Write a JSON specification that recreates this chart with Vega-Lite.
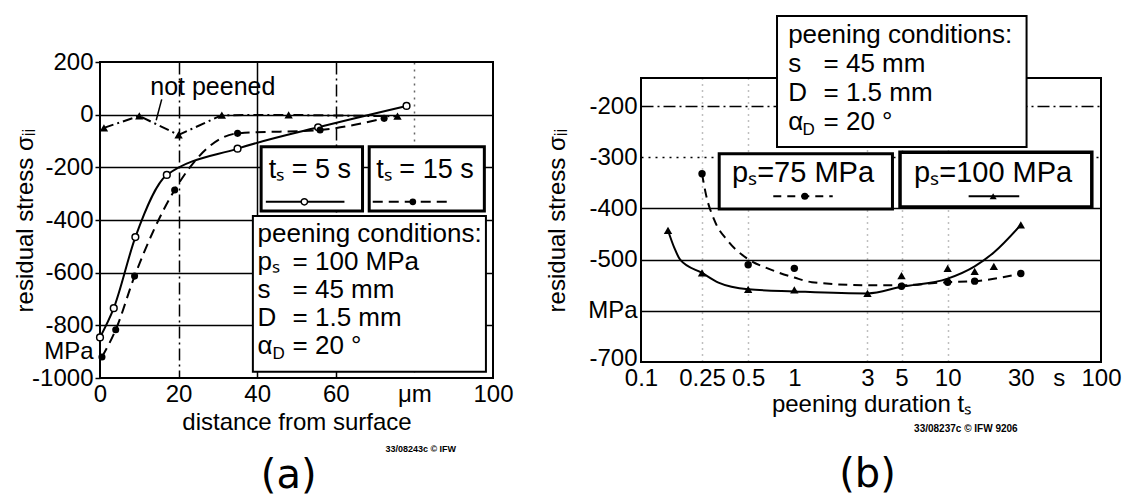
{
  "$schema": "https://vega.github.io/schema/vega-lite/v6.json",
  "background": "white",
  "padding": {"left": 12, "top": 14, "right": 0, "bottom": 0},
  "bounds": "flush",
  "center": true,
  "spacing": 148,
  "config": {
    "font": "Liberation Sans",
    "view": {"stroke": "black", "strokeWidth": 2},
    "axis": {
      "labelFont": "Liberation Sans", "titleFont": "Liberation Sans",
      "labelFontSize": 24, "titleFontSize": 24,
      "labelColor": "black", "titleColor": "black", "titleFontWeight": "normal",
      "domain": false, "gridColor": "black", "gridOpacity": 1,
      "labelOverlap": false, "labelFlush": false, "tickColor": "black"
    }
  },
  "datasets": {
    "a": [
      {"series": "not peened", "d": 1, "s": -50},
      {"series": "not peened", "d": 10, "s": -5},
      {"series": "not peened", "d": 20, "s": -77},
      {"series": "not peened", "d": 31, "s": -2},
      {"series": "not peened", "d": 48, "s": -1},
      {"series": "not peened", "d": 75.7, "s": -6},
      {"series": "5 s", "d": 0, "s": -846},
      {"series": "5 s", "d": 3.5, "s": -735},
      {"series": "5 s", "d": 9, "s": -465},
      {"series": "5 s", "d": 17, "s": -229},
      {"series": "5 s", "d": 35, "s": -129},
      {"series": "5 s", "d": 55.5, "s": -48},
      {"series": "5 s", "d": 78, "s": 33},
      {"series": "15 s", "d": 0.5, "s": -920},
      {"series": "15 s", "d": 4, "s": -817},
      {"series": "15 s", "d": 8.8, "s": -613},
      {"series": "15 s", "d": 19, "s": -286},
      {"series": "15 s", "d": 35, "s": -71},
      {"series": "15 s", "d": 56, "s": -58},
      {"series": "15 s", "d": 72.3, "s": -14}
    ],
    "b": [
      {"p": "100 MPa", "t": 0.15, "s": -443},
      {"p": "100 MPa", "t": 0.25, "s": -526},
      {"p": "100 MPa", "t": 0.5, "s": -558},
      {"p": "100 MPa", "t": 1, "s": -559},
      {"p": "100 MPa", "t": 3, "s": -566},
      {"p": "100 MPa", "t": 5, "s": -531},
      {"p": "100 MPa", "t": 10, "s": -517},
      {"p": "100 MPa", "t": 15, "s": -523},
      {"p": "100 MPa", "t": 20, "s": -513},
      {"p": "100 MPa", "t": 30, "s": -432},
      {"p": "75 MPa", "t": 0.25, "s": -332},
      {"p": "75 MPa", "t": 0.5, "s": -510},
      {"p": "75 MPa", "t": 1, "s": -517},
      {"p": "75 MPa", "t": 5, "s": -552},
      {"p": "75 MPa", "t": 10, "s": -544},
      {"p": "75 MPa", "t": 15, "s": -542},
      {"p": "75 MPa", "t": 30, "s": -527}
    ],
    "bfit": [
      {"p": "100 MPa", "t": 0.15, "s": -443},
      {"p": "100 MPa", "t": 0.165, "s": -477},
      {"p": "100 MPa", "t": 0.18, "s": -500},
      {"p": "100 MPa", "t": 0.25, "s": -526},
      {"p": "100 MPa", "t": 0.32, "s": -545},
      {"p": "100 MPa", "t": 0.5, "s": -558},
      {"p": "100 MPa", "t": 1, "s": -562},
      {"p": "100 MPa", "t": 3, "s": -566},
      {"p": "100 MPa", "t": 5, "s": -553},
      {"p": "100 MPa", "t": 10, "s": -537},
      {"p": "100 MPa", "t": 15, "s": -513},
      {"p": "100 MPa", "t": 20, "s": -486},
      {"p": "100 MPa", "t": 30, "s": -432},
      {"p": "75 MPa", "t": 0.25, "s": -332},
      {"p": "75 MPa", "t": 0.265, "s": -372},
      {"p": "75 MPa", "t": 0.3, "s": -422},
      {"p": "75 MPa", "t": 0.37, "s": -464},
      {"p": "75 MPa", "t": 0.5, "s": -499},
      {"p": "75 MPa", "t": 0.67, "s": -517},
      {"p": "75 MPa", "t": 1, "s": -535},
      {"p": "75 MPa", "t": 1.3, "s": -544},
      {"p": "75 MPa", "t": 3, "s": -550},
      {"p": "75 MPa", "t": 5, "s": -550},
      {"p": "75 MPa", "t": 10, "s": -544},
      {"p": "75 MPa", "t": 15, "s": -542},
      {"p": "75 MPa", "t": 30, "s": -527}
    ]
  },
  "hconcat": [
    {
      "width": 393,
      "height": 316,
      "layer": [
        {
          "data": {"name": "a"},
          "transform": [{"filter": "datum.series == 'not peened'"}],
          "mark": {"type": "line", "color": "black", "strokeWidth": 2, "strokeDash": [10, 4, 2, 4]},
          "encoding": {
            "x": {"field": "d", "type": "quantitative", "scale": {"domain": [0, 100], "nice": false, "zero": false},
              "axis": {"title": "distance from surface", "values": [0, 20, 40, 60, 80, 100],
                "labelExpr": "datum.value == 80 ? 'μm' : '' + datum.value",
                "ticks": false, "labelPadding": 4, "titlePadding": 4, "grid": true, "gridWidth": 1.5,
                "gridDash": {"condition": [{"test": "datum.value == 40", "value": []}, {"test": "datum.value == 80", "value": [2, 5]}], "value": [12, 4, 2, 4]},
                "gridOpacity": {"condition": [{"test": "datum.value == 0 || datum.value == 100", "value": 0}, {"test": "datum.value == 80", "value": 0.6}], "value": 1}}},
            "y": {"field": "s", "type": "quantitative", "scale": {"domain": [-1000, 200], "nice": false, "zero": false},
              "axis": {"title": "residual stress σᵢᵢ", "values": [200, 0, -200, -400, -600, -800, -900, -1000],
                "labelExpr": "datum.value == -900 ? 'MPa' : '' + datum.value",
                "ticks": true, "tickSize": 5, "tickWidth": 1.5,
                "tickOpacity": {"condition": {"test": "datum.value == -900", "value": 0}, "value": 1},
                "labelPadding": 2, "grid": true, "gridWidth": 1.5,
                "gridOpacity": {"condition": {"test": "datum.value == -900 || datum.value == 200 || datum.value == -1000", "value": 0}, "value": 1},
                "titleX": -75, "titleY": 158, "titleAngle": 270, "titleAlign": "center", "titleBaseline": "middle"}}
          }
        },
        {
          "data": {"name": "a"},
          "transform": [{"filter": "datum.series == 'not peened'"}],
          "mark": {"type": "point", "shape": "triangle-up", "filled": true, "color": "black", "size": 70, "opacity": 1},
          "encoding": {
            "x": {"field": "d", "type": "quantitative", "scale": {"domain": [0, 100], "nice": false, "zero": false}},
            "y": {"field": "s", "type": "quantitative", "scale": {"domain": [-1000, 200], "nice": false, "zero": false}}
          }
        },
        {
          "data": {"name": "a"},
          "transform": [{"filter": "datum.series == '5 s'"}],
          "mark": {"type": "line", "color": "black", "strokeWidth": 2, "interpolate": "monotone"},
          "encoding": {
            "x": {"field": "d", "type": "quantitative", "scale": {"domain": [0, 100], "nice": false, "zero": false}},
            "y": {"field": "s", "type": "quantitative", "scale": {"domain": [-1000, 200], "nice": false, "zero": false}}
          }
        },
        {
          "data": {"name": "a"},
          "transform": [{"filter": "datum.series == '15 s'"}],
          "mark": {"type": "line", "color": "black", "strokeWidth": 2, "strokeDash": [10, 6], "interpolate": "monotone"},
          "encoding": {
            "x": {"field": "d", "type": "quantitative", "scale": {"domain": [0, 100], "nice": false, "zero": false}},
            "y": {"field": "s", "type": "quantitative", "scale": {"domain": [-1000, 200], "nice": false, "zero": false}}
          }
        },
        {
          "data": {"name": "a"},
          "transform": [{"filter": "datum.series == '5 s'"}],
          "mark": {"type": "point", "shape": "circle", "filled": true, "fill": "white", "stroke": "black", "strokeWidth": 1.5, "size": 45, "opacity": 1},
          "encoding": {
            "x": {"field": "d", "type": "quantitative", "scale": {"domain": [0, 100], "nice": false, "zero": false}},
            "y": {"field": "s", "type": "quantitative", "scale": {"domain": [-1000, 200], "nice": false, "zero": false}}
          }
        },
        {
          "data": {"name": "a"},
          "transform": [{"filter": "datum.series == '15 s'"}],
          "mark": {"type": "point", "shape": "circle", "filled": true, "color": "black", "size": 50, "opacity": 1},
          "encoding": {
            "x": {"field": "d", "type": "quantitative", "scale": {"domain": [0, 100], "nice": false, "zero": false}},
            "y": {"field": "s", "type": "quantitative", "scale": {"domain": [-1000, 200], "nice": false, "zero": false}}
          }
        },
        {
          "data": {"values": [{}]},
          "mark": {"type": "rule", "color": "black", "strokeWidth": 1.5},
          "encoding": {
            "x": {"datum": 15.7, "scale": {"domain": [0, 100], "nice": false, "zero": false}},
            "y": {"datum": 58, "scale": {"domain": [-1000, 200], "nice": false, "zero": false}},
            "x2": {"datum": 14.3}, "y2": {"datum": -21}
          }
        },
        {
          "data": {"values": [{}]},
          "mark": {"type": "text", "text": "not peened", "fontSize": 25, "align": "center", "baseline": "alphabetic", "color": "black"},
          "encoding": {
            "x": {"datum": 28.7, "scale": {"domain": [0, 100], "nice": false, "zero": false}},
            "y": {"datum": 73, "scale": {"domain": [-1000, 200], "nice": false, "zero": false}}
          }
        },
        {
          "data": {"values": [{}]},
          "mark": {"type": "rect", "fill": "white", "stroke": "black", "strokeWidth": 3},
          "encoding": {
            "x": {"datum": 41, "scale": {"domain": [0, 100], "nice": false, "zero": false}},
            "y": {"datum": -122, "scale": {"domain": [-1000, 200], "nice": false, "zero": false}},
            "x2": {"datum": 66.8}, "y2": {"datum": -366}
          }
        },
        {
          "data": {"values": [{}]},
          "mark": {"type": "rect", "fill": "white", "stroke": "black", "strokeWidth": 3},
          "encoding": {
            "x": {"datum": 68.5, "scale": {"domain": [0, 100], "nice": false, "zero": false}},
            "y": {"datum": -122, "scale": {"domain": [-1000, 200], "nice": false, "zero": false}},
            "x2": {"datum": 97.8}, "y2": {"datum": -366}
          }
        },
        {
          "data": {"values": [{}]},
          "mark": {"type": "rect", "fill": "white", "stroke": "black", "strokeWidth": 2},
          "encoding": {
            "x": {"datum": 38.9, "scale": {"domain": [0, 100], "nice": false, "zero": false}},
            "y": {"datum": -385, "scale": {"domain": [-1000, 200], "nice": false, "zero": false}},
            "x2": {"datum": 98.2}, "y2": {"datum": -976}
          }
        },
        {
          "data": {"values": [{}]},
          "mark": {"type": "text", "text": "tₛ = 5 s", "fontSize": 27, "align": "center", "baseline": "alphabetic", "color": "black"},
          "encoding": {
            "x": {"datum": 53.4, "scale": {"domain": [0, 100], "nice": false, "zero": false}},
            "y": {"datum": -241, "scale": {"domain": [-1000, 200], "nice": false, "zero": false}}
          }
        },
        {
          "data": {"values": [{}]},
          "mark": {"type": "text", "text": "tₛ = 15 s", "fontSize": 27, "align": "center", "baseline": "alphabetic", "color": "black"},
          "encoding": {
            "x": {"datum": 82.7, "scale": {"domain": [0, 100], "nice": false, "zero": false}},
            "y": {"datum": -241, "scale": {"domain": [-1000, 200], "nice": false, "zero": false}}
          }
        },
        {
          "data": {"values": [{}]},
          "mark": {"type": "rule", "color": "black", "strokeWidth": 2},
          "encoding": {
            "x": {"datum": 42.2, "scale": {"domain": [0, 100], "nice": false, "zero": false}},
            "y": {"datum": -331, "scale": {"domain": [-1000, 200], "nice": false, "zero": false}},
            "x2": {"datum": 62.2}
          }
        },
        {
          "data": {"values": [{}]},
          "mark": {"type": "point", "shape": "circle", "filled": true, "fill": "white", "stroke": "black", "strokeWidth": 1.5, "size": 40, "opacity": 1},
          "encoding": {
            "x": {"datum": 52, "scale": {"domain": [0, 100], "nice": false, "zero": false}},
            "y": {"datum": -331, "scale": {"domain": [-1000, 200], "nice": false, "zero": false}}
          }
        },
        {
          "data": {"values": [{}]},
          "mark": {"type": "rule", "color": "black", "strokeWidth": 2, "strokeDash": [10, 6]},
          "encoding": {
            "x": {"datum": 69.4, "scale": {"domain": [0, 100], "nice": false, "zero": false}},
            "y": {"datum": -331, "scale": {"domain": [-1000, 200], "nice": false, "zero": false}},
            "x2": {"datum": 89.3}
          }
        },
        {
          "data": {"values": [{}]},
          "mark": {"type": "point", "shape": "circle", "filled": true, "color": "black", "size": 45, "opacity": 1},
          "encoding": {
            "x": {"datum": 79.6, "scale": {"domain": [0, 100], "nice": false, "zero": false}},
            "y": {"datum": -331, "scale": {"domain": [-1000, 200], "nice": false, "zero": false}}
          }
        },
        {
          "data": {"values": [{}]},
          "mark": {"type": "text", "text": ["peening conditions:", "pₛ", "s", "D", "α"], "lineHeight": 28, "fontSize": 26, "align": "left", "baseline": "alphabetic", "color": "black"},
          "encoding": {
            "x": {"datum": 40.1, "scale": {"domain": [0, 100], "nice": false, "zero": false}},
            "y": {"datum": -482, "scale": {"domain": [-1000, 200], "nice": false, "zero": false}}
          }
        },
        {
          "data": {"values": [{}]},
          "mark": {"type": "text", "text": ["", "= 100 MPa", "= 45 mm", "= 1.5 mm", "= 20 °"], "lineHeight": 28, "fontSize": 26, "align": "left", "baseline": "alphabetic", "color": "black"},
          "encoding": {
            "x": {"datum": 49, "scale": {"domain": [0, 100], "nice": false, "zero": false}},
            "y": {"datum": -482, "scale": {"domain": [-1000, 200], "nice": false, "zero": false}}
          }
        },
        {
          "data": {"values": [{}]},
          "mark": {"type": "text", "text": "D", "fontSize": 17, "align": "left", "baseline": "alphabetic", "color": "black"},
          "encoding": {
            "x": {"datum": 43.9, "scale": {"domain": [0, 100], "nice": false, "zero": false}},
            "y": {"datum": -928, "scale": {"domain": [-1000, 200], "nice": false, "zero": false}}
          }
        },
        {
          "data": {"values": [{}]},
          "mark": {"type": "text", "text": "33/08243c © IFW", "fontWeight": "bold", "fontSize": 9, "align": "right", "baseline": "alphabetic", "color": "black"},
          "encoding": {
            "x": {"datum": 90.6, "scale": {"domain": [0, 100], "nice": false, "zero": false}},
            "y": {"datum": -1281, "scale": {"domain": [-1000, 200], "nice": false, "zero": false}}
          }
        },
        {
          "data": {"values": [{}]},
          "mark": {"type": "text", "text": "(a)", "font": "DejaVu Sans", "fontSize": 40, "align": "center", "baseline": "alphabetic", "color": "black"},
          "encoding": {
            "x": {"datum": 48, "scale": {"domain": [0, 100], "nice": false, "zero": false}},
            "y": {"datum": -1418, "scale": {"domain": [-1000, 200], "nice": false, "zero": false}}
          }
        }
      ]
    },
    {
      "width": 460,
      "height": 284,
      "layer": [
        {
          "data": {"name": "bfit"},
          "transform": [{"filter": "datum.p == '100 MPa'"}],
          "mark": {"type": "line", "color": "black", "strokeWidth": 2, "interpolate": "monotone"},
          "encoding": {
            "x": {"field": "t", "type": "quantitative", "scale": {"type": "log", "domain": [0.1, 100], "nice": false},
              "axis": {"title": "peening duration tₛ", "values": [0.1, 0.25, 0.5, 1, 3, 5, 10, 30, 53, 100],
                "labelExpr": "datum.value == 53 ? 's' : '' + datum.value",
                "ticks": false, "labelPadding": 4, "titlePadding": 2, "grid": true, "gridDash": [1, 5], "gridWidth": 1.5,
                "gridOpacity": {"condition": {"test": "indexof([0.25, 0.5, 3, 5, 10], datum.value) >= 0", "value": 0.5}, "value": 0}}},
            "y": {"field": "s", "type": "quantitative", "scale": {"domain": [-700, -145], "nice": false, "zero": false},
              "axis": {"title": "residual stress σᵢᵢ", "values": [-200, -300, -400, -500, -600, -700],
                "labelExpr": "datum.value == -600 ? 'MPa' : '' + datum.value",
                "labelOffset": {"condition": {"test": "datum.value == -700", "value": -4}, "value": 0},
                "ticks": false, "labelPadding": 4, "grid": true, "gridWidth": 1.5,
                "gridDash": {"condition": [{"test": "datum.value == -200", "value": [12, 4, 2, 4]}, {"test": "datum.value == -300", "value": [2, 5]}], "value": []},
                "gridOpacity": {"condition": {"test": "datum.value == -700", "value": 0}, "value": 1},
                "titleX": -84, "titleY": 142, "titleAngle": 270, "titleAlign": "center", "titleBaseline": "middle"}}
          }
        },
        {
          "data": {"name": "bfit"},
          "transform": [{"filter": "datum.p == '75 MPa'"}],
          "mark": {"type": "line", "color": "black", "strokeWidth": 2, "strokeDash": [9, 6], "interpolate": "monotone"},
          "encoding": {
            "x": {"field": "t", "type": "quantitative", "scale": {"type": "log", "domain": [0.1, 100], "nice": false}},
            "y": {"field": "s", "type": "quantitative", "scale": {"domain": [-700, -145], "nice": false, "zero": false}}
          }
        },
        {
          "data": {"name": "b"},
          "transform": [{"filter": "datum.p == '100 MPa'"}],
          "mark": {"type": "point", "shape": "triangle-up", "filled": true, "color": "black", "size": 70, "opacity": 1},
          "encoding": {
            "x": {"field": "t", "type": "quantitative", "scale": {"type": "log", "domain": [0.1, 100], "nice": false}},
            "y": {"field": "s", "type": "quantitative", "scale": {"domain": [-700, -145], "nice": false, "zero": false}}
          }
        },
        {
          "data": {"name": "b"},
          "transform": [{"filter": "datum.p == '75 MPa'"}],
          "mark": {"type": "point", "shape": "circle", "filled": true, "color": "black", "size": 55, "opacity": 1},
          "encoding": {
            "x": {"field": "t", "type": "quantitative", "scale": {"type": "log", "domain": [0.1, 100], "nice": false}},
            "y": {"field": "s", "type": "quantitative", "scale": {"domain": [-700, -145], "nice": false, "zero": false}}
          }
        },
        {
          "data": {"values": [{}]},
          "mark": {"type": "rect", "fill": "white", "stroke": "black", "strokeWidth": 2},
          "encoding": {
            "x": {"datum": 0.771, "scale": {"type": "log", "domain": [0.1, 100], "nice": false}},
            "y": {"datum": -24, "scale": {"domain": [-700, -145], "nice": false, "zero": false}},
            "x2": {"datum": 32.7}, "y2": {"datum": -280}
          }
        },
        {
          "data": {"values": [{}]},
          "mark": {"type": "rect", "fill": "white", "stroke": "black", "strokeWidth": 3},
          "encoding": {
            "x": {"datum": 0.3236, "scale": {"type": "log", "domain": [0.1, 100], "nice": false}},
            "y": {"datum": -293, "scale": {"domain": [-700, -145], "nice": false, "zero": false}},
            "x2": {"datum": 4.365}, "y2": {"datum": -401}
          }
        },
        {
          "data": {"values": [{}]},
          "mark": {"type": "rect", "fill": "white", "stroke": "black", "strokeWidth": 3.5},
          "encoding": {
            "x": {"datum": 4.89, "scale": {"type": "log", "domain": [0.1, 100], "nice": false}},
            "y": {"datum": -290, "scale": {"domain": [-700, -145], "nice": false, "zero": false}},
            "x2": {"datum": 87.1}, "y2": {"datum": -397}
          }
        },
        {
          "data": {"values": [{}]},
          "mark": {"type": "text", "text": ["peening conditions:", "s", "D", "α"], "lineHeight": 29, "fontSize": 26, "align": "left", "baseline": "alphabetic", "color": "black"},
          "encoding": {
            "x": {"datum": 0.911, "scale": {"type": "log", "domain": [0.1, 100], "nice": false}},
            "y": {"datum": -77, "scale": {"domain": [-700, -145], "nice": false, "zero": false}}
          }
        },
        {
          "data": {"values": [{}]},
          "mark": {"type": "text", "text": ["", "= 45 mm", "= 1.5 mm", "= 20 °"], "lineHeight": 29, "fontSize": 26, "align": "left", "baseline": "alphabetic", "color": "black"},
          "encoding": {
            "x": {"datum": 1.55, "scale": {"type": "log", "domain": [0.1, 100], "nice": false}},
            "y": {"datum": -77, "scale": {"domain": [-700, -145], "nice": false, "zero": false}}
          }
        },
        {
          "data": {"values": [{}]},
          "mark": {"type": "text", "text": "D", "fontSize": 17, "align": "left", "baseline": "alphabetic", "color": "black"},
          "encoding": {
            "x": {"datum": 1.13, "scale": {"type": "log", "domain": [0.1, 100], "nice": false}},
            "y": {"datum": -257, "scale": {"domain": [-700, -145], "nice": false, "zero": false}}
          }
        },
        {
          "data": {"values": [{}]},
          "mark": {"type": "text", "text": "pₛ=75 MPa", "fontSize": 29, "align": "center", "baseline": "alphabetic", "color": "black"},
          "encoding": {
            "x": {"datum": 1.14, "scale": {"type": "log", "domain": [0.1, 100], "nice": false}},
            "y": {"datum": -348, "scale": {"domain": [-700, -145], "nice": false, "zero": false}}
          }
        },
        {
          "data": {"values": [{}]},
          "mark": {"type": "text", "text": "pₛ=100 MPa", "fontSize": 29, "align": "center", "baseline": "alphabetic", "color": "black"},
          "encoding": {
            "x": {"datum": 19.8, "scale": {"type": "log", "domain": [0.1, 100], "nice": false}},
            "y": {"datum": -348, "scale": {"domain": [-700, -145], "nice": false, "zero": false}}
          }
        },
        {
          "data": {"values": [{}]},
          "mark": {"type": "rule", "color": "black", "strokeWidth": 2, "strokeDash": [8, 6]},
          "encoding": {
            "x": {"datum": 0.729, "scale": {"type": "log", "domain": [0.1, 100], "nice": false}},
            "y": {"datum": -376, "scale": {"domain": [-700, -145], "nice": false, "zero": false}},
            "x2": {"datum": 1.78}
          }
        },
        {
          "data": {"values": [{}]},
          "mark": {"type": "point", "shape": "circle", "filled": true, "color": "black", "size": 50, "opacity": 1},
          "encoding": {
            "x": {"datum": 1.17, "scale": {"type": "log", "domain": [0.1, 100], "nice": false}},
            "y": {"datum": -376, "scale": {"domain": [-700, -145], "nice": false, "zero": false}}
          }
        },
        {
          "data": {"values": [{}]},
          "mark": {"type": "rule", "color": "black", "strokeWidth": 2},
          "encoding": {
            "x": {"datum": 13.7, "scale": {"type": "log", "domain": [0.1, 100], "nice": false}},
            "y": {"datum": -376, "scale": {"domain": [-700, -145], "nice": false, "zero": false}},
            "x2": {"datum": 29.3}
          }
        },
        {
          "data": {"values": [{}]},
          "mark": {"type": "point", "shape": "triangle-up", "filled": true, "color": "black", "size": 50, "opacity": 1},
          "encoding": {
            "x": {"datum": 19.8, "scale": {"type": "log", "domain": [0.1, 100], "nice": false}},
            "y": {"datum": -376, "scale": {"domain": [-700, -145], "nice": false, "zero": false}}
          }
        },
        {
          "data": {"values": [{}]},
          "mark": {"type": "text", "text": "33/08237c © IFW 9206", "fontWeight": "bold", "fontSize": 10, "align": "right", "baseline": "alphabetic", "color": "black"},
          "encoding": {
            "x": {"datum": 28.6, "scale": {"type": "log", "domain": [0.1, 100], "nice": false}},
            "y": {"datum": -837, "scale": {"domain": [-700, -145], "nice": false, "zero": false}}
          }
        },
        {
          "data": {"values": [{}]},
          "mark": {"type": "text", "text": "(b)", "font": "DejaVu Sans", "fontSize": 40, "align": "center", "baseline": "alphabetic", "color": "black"},
          "encoding": {
            "x": {"datum": 3, "scale": {"type": "log", "domain": [0.1, 100], "nice": false}},
            "y": {"datum": -945, "scale": {"domain": [-700, -145], "nice": false, "zero": false}}
          }
        }
      ]
    }
  ]
}
